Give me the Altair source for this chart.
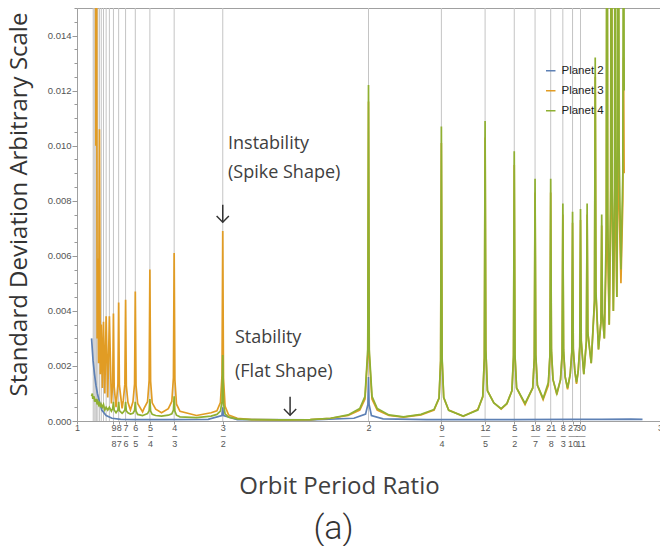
import altair as alt
import pandas as pd

# ---------------- data ----------------
series_names = ["Planet 2", "Planet 3", "Planet 4"]
series_colors = ["#5E81B5", "#E19C24", "#8FB032"]

# shared ratio grid for Planet 3 / Planet 4
ratio = [
    1.0500, 1.0526, 1.0541, 1.0556, 1.0572, 1.0588, 1.0606, 1.0625, 1.0645, 1.0667,
    1.0690, 1.0714, 1.0741, 1.0769, 1.0800, 1.0833, 1.0870, 1.0909, 1.0954, 1.1000,
    1.1055, 1.1111, 1.1180, 1.1225, 1.1250, 1.1275, 1.1339, 1.1404, 1.1429, 1.1454,
    1.1548, 1.1587, 1.1642, 1.1667, 1.1692, 1.1747, 1.1833, 1.1920, 1.1975, 1.2000,
    1.2025, 1.2080, 1.2250, 1.2300, 1.2420, 1.2475, 1.2500, 1.2525, 1.2580, 1.2700,
    1.2900, 1.3133, 1.3253, 1.3308, 1.3333, 1.3358, 1.3413, 1.3533, 1.4100, 1.4600,
    1.4800, 1.4920, 1.4975, 1.5000, 1.5025, 1.5080, 1.5200, 1.5500, 1.6000, 1.7000,
    1.8000, 1.8700, 1.9300, 1.9700, 1.9880, 1.9975, 2.0000, 2.0025, 2.0120, 2.0300,
    2.0700, 2.1200, 2.1800, 2.2250, 2.2420, 2.2475, 2.2500, 2.2525, 2.2580, 2.2750,
    2.3250, 2.3750, 2.3920, 2.3975, 2.4000, 2.4025, 2.4080, 2.4300, 2.4550, 2.4750,
    2.4920, 2.4975, 2.5000, 2.5025, 2.5080, 2.5370, 2.5634, 2.5689, 2.5714, 2.5739,
    2.5794, 2.5990, 2.6170, 2.6225, 2.6250, 2.6275, 2.6330, 2.6460, 2.6587, 2.6642,
    2.6667, 2.6692, 2.6747, 2.6830, 2.6920, 2.6975, 2.7000, 2.7025, 2.7080, 2.7136,
    2.7193, 2.7248, 2.7273, 2.7298, 2.7386, 2.7475, 2.7500, 2.7525, 2.7640, 2.7753,
    2.7778, 2.7803, 2.7890, 2.7975, 2.8000, 2.8025, 2.8090, 2.8157, 2.8182, 2.8207,
    2.8258, 2.8308, 2.8333, 2.8358, 2.8400, 2.8440, 2.8462, 2.8485, 2.8520, 2.8546,
    2.8571, 2.8596, 2.8660, 2.8725, 2.8750, 2.8770,
]
planet3 = [
    0.0300, 0.0400, 0.0190, 0.0350, 0.0175, 0.0320, 0.0165, 0.0300, 0.0100, 0.0260,
    0.0030, 0.0059, 0.0021, 0.0106, 0.0017, 0.0035, 0.0012, 0.0036, 0.0010, 0.0038,
    0.00085, 0.0038, 0.00064, 0.00136, 0.0039, 0.00125, 0.0005, 0.00134, 0.0043, 0.0013,
    0.00046, 0.00074, 0.00133, 0.0044, 0.00128, 0.00068, 0.0004, 0.0007, 0.00135, 0.0047,
    0.00129, 0.00064, 0.00033, 0.00046, 0.0007, 0.00147, 0.0055, 0.00144, 0.00066, 0.00043,
    0.0003, 0.00045, 0.00071, 0.00158, 0.0061, 0.0015, 0.00061, 0.00035, 0.0002, 0.0003,
    0.00037, 0.00067, 0.00167, 0.0069, 0.00156, 0.00053, 0.00022, 0.0001, 0.00005, 0.00004,
    0.00005, 0.0001, 0.0002, 0.0004, 0.0008, 0.0024, 0.0116, 0.0024, 0.0008, 0.0004,
    0.0002, 0.00014, 0.00022, 0.0004, 0.00082, 0.0022, 0.0101, 0.0022, 0.00084, 0.0004,
    0.00017, 0.00042, 0.00087, 0.0023, 0.0103, 0.0026, 0.0011, 0.00066, 0.00043, 0.00063,
    0.0011, 0.0023, 0.0093, 0.0024, 0.0012, 0.0006, 0.0012, 0.0023, 0.0083, 0.0024,
    0.0013, 0.00078, 0.0013, 0.0024, 0.0083, 0.0025, 0.0015, 0.00096, 0.0015, 0.0024,
    0.0075, 0.0025, 0.0016, 0.00115, 0.0017, 0.0025, 0.0072, 0.0026, 0.0018, 0.00135,
    0.0018, 0.0027, 0.0073, 0.0029, 0.0017, 0.0029, 0.0075, 0.0032, 0.0021, 0.0043,
    0.0125, 0.0046, 0.0026, 0.0036, 0.0071, 0.0039, 0.0030, 0.0060, 0.0200, 0.0062,
    0.0035, 0.0075, 0.0300, 0.0080, 0.0040, 0.0070, 0.0123, 0.0070, 0.0045, 0.0080,
    0.0160, 0.0080, 0.0050, 0.0080, 0.0132, 0.0090,
]
planet4 = [
    0.0009, 0.0010, 0.0008, 0.0009, 0.0008, 0.0009, 0.0007, 0.0008, 0.0007, 0.0008,
    0.0006, 0.0007, 0.0006, 0.0007, 0.0005, 0.0006, 0.0005, 0.0006, 0.0004, 0.0005,
    0.0004, 0.0005, 0.00036, 0.00045, 0.0007, 0.0004, 0.0003, 0.0004, 0.0007, 0.00038,
    0.00028, 0.00032, 0.0004, 0.0007, 0.00037, 0.0003, 0.00025, 0.00028, 0.00038, 0.0007,
    0.00036, 0.00024, 0.0002, 0.00022, 0.00027, 0.00038, 0.0008, 0.00036, 0.00024, 0.0002,
    0.00018, 0.00021, 0.00026, 0.0004, 0.0009, 0.00036, 0.00021, 0.00015, 0.00012, 0.00018,
    0.00024, 0.00036, 0.0007, 0.0024, 0.00065, 0.00026, 0.00014, 0.00008, 0.00005, 0.00004,
    0.00005, 0.0001, 0.00022, 0.00045, 0.0009, 0.0026, 0.0122, 0.0026, 0.0009, 0.00045,
    0.00022, 0.00015, 0.00024, 0.00042, 0.00083, 0.0022, 0.0107, 0.0023, 0.00086, 0.00039,
    0.00018, 0.0004, 0.0009, 0.0023, 0.0109, 0.0026, 0.0011, 0.00066, 0.00045, 0.00064,
    0.0011, 0.0024, 0.0098, 0.0024, 0.0012, 0.00064, 0.0012, 0.0023, 0.0088, 0.0024,
    0.0013, 0.00082, 0.0014, 0.0024, 0.0088, 0.0026, 0.0015, 0.0010, 0.0015, 0.0024,
    0.0079, 0.0026, 0.0016, 0.0012, 0.0017, 0.0025, 0.0076, 0.0026, 0.0018, 0.0014,
    0.0018, 0.0027, 0.0077, 0.0029, 0.0017, 0.0029, 0.0079, 0.0032, 0.0021, 0.0044,
    0.0132, 0.0047, 0.0026, 0.0036, 0.0075, 0.0039, 0.0030, 0.0070, 0.0300, 0.0075,
    0.0035, 0.0085, 0.0300, 0.0085, 0.0040, 0.0085, 0.0300, 0.0090, 0.0045, 0.0100,
    0.0300, 0.0100, 0.0055, 0.0090, 0.0250, 0.0120,
]

# Planet 2 has its own (coarser) grid
p2_ratio = [1.050, 1.055, 1.060, 1.065, 1.070, 1.077, 1.085, 1.100, 1.120, 1.150,
            1.200, 1.300, 1.450, 1.497, 1.500, 1.503, 1.550, 1.800, 1.950, 1.990,
            1.998, 2.000, 2.002, 2.010, 2.050, 2.200, 2.500, 2.700, 2.800, 2.900, 2.940]
planet2 = [0.0030, 0.0022, 0.0017, 0.0013, 0.0010, 0.0007, 0.0004, 0.0002, 0.0001, 0.00006,
           0.00005, 0.00005, 0.00006, 0.0002, 0.0005, 0.0002, 0.00005, 0.00004, 0.0001, 0.00025,
           0.0006, 0.0016, 0.0006, 0.0002, 0.00008, 0.00005, 0.00005, 0.00006, 0.00006, 0.00007, 0.00006]

# resonance grid lines
resonances = [19/18, 18/17, 17/16, 16/15, 15/14, 14/13, 13/12, 12/11, 11/10, 10/9,
              9/8, 8/7, 7/6, 6/5, 5/4, 4/3, 3/2, 2, 9/4, 12/5, 5/2, 18/7, 21/8,
              8/3, 27/10, 30/11]

# x tick labels (fractions)
tick_values = [1, 9/8, 8/7, 7/6, 6/5, 5/4, 4/3, 3/2, 2, 9/4, 12/5, 5/2, 18/7, 21/8,
               8/3, 27/10, 30/11, 3]
tick_num = ["1", "9", "8", "7", "6", "5", "4", "3", "2", "9", "12", "5", "18", "21",
            "8", "27", "30", "3"]
tick_den = ["", "8", "7", "6", "5", "4", "3", "2", "", "4", "5", "2", "7", "8",
            "3", "10", "11", ""]

y_ticks = [0.0, 0.0005, 0.001, 0.0015, 0.002, 0.0025, 0.003, 0.0035, 0.004, 0.0045,
           0.005, 0.0055, 0.006, 0.0065, 0.007, 0.0075, 0.008, 0.0085, 0.009, 0.0095,
           0.010, 0.0105, 0.011, 0.0115, 0.012, 0.0125, 0.013, 0.0135, 0.014, 0.0145, 0.015]

notes_text = ["Instability", "(Spike Shape)", "Stability", "(Flat Shape)"]
notes_x = [1.518, 1.518, 1.542, 1.542]
notes_y = [0.01007, 0.0090, 0.0030, 0.00177]

arrow_x = [1.5, 1.731]
arrow_tip = [0.00722, 0.00021]
arrow_top = [0.00785, 0.00088]

# ---------------- build tables ----------------
df3 = pd.DataFrame({"ratio": ratio, "sd": planet3, "series": "Planet 3"})
df4 = pd.DataFrame({"ratio": ratio, "sd": planet4, "series": "Planet 4"})
df2 = pd.DataFrame({"ratio": p2_ratio, "sd": planet2, "series": "Planet 2"})
df_res = pd.DataFrame({"ratio": resonances})
df_notes = pd.DataFrame({"ratio": notes_x, "sd": notes_y, "label": notes_text})
df_arrow = pd.DataFrame({"ratio": arrow_x, "sd": arrow_tip, "sd2": arrow_top})

parts = []
for v, n, d in zip(tick_values, tick_num, tick_den):
    if d:
        bar = "\u2013" if (len(n) == 1 and len(d) == 1) else "\u2014"
        lab = "['%s','%s','%s']" % (n, bar, d)
    else:
        lab = "'%s'" % n
    parts.append("abs(datum.value - %r) < 0.0001 ? %s : " % (v, lab))
x_label_expr = "".join(parts) + "''"

x_axis = alt.Axis(
    values=tick_values, labelExpr=x_label_expr, labelOverlap=False, labelFlush=False,
    labelBound=False, labelFont="Liberation Sans", labelFontSize=9, labelColor="#555555",
    labelLineHeight=8, labelPadding=-1, tickSize=3, tickColor="#999999", domain=False,
    grid=False, title="Orbit Period Ratio", titleFont="Open Sans", titleFontSize=24,
    titleFontWeight="normal", titleColor="#404040", titleX=262, titleY=72,
    titleBaseline="alphabetic", titleAlign="center",
)
y_axis = alt.Axis(
    values=y_ticks,
    labelExpr="round(datum.value*10000) % 20 == 0 ? format(datum.value, '.3f') : ''",
    tickSize={"condition": {"test": "round(datum.value*10000) % 20 == 0", "value": 5}, "value": 3},
    tickColor="#999999", labelFont="Liberation Sans", labelFontSize=9.5, labelColor="#555555",
    labelPadding=1, domain=False, grid=False,
    title="Standard Deviation Arbitrary Scale", titleFont="Open Sans", titleFontSize=24,
    titleFontWeight="normal", titleColor="#333333", titleX=-51, titleY=196,
    titleAngle=270, titleBaseline="alphabetic", titleAlign="center",
)

xs = alt.Scale(domain=[1, 3], nice=False, zero=False)
ys = alt.Scale(domain=[0, 0.015], nice=False, zero=False)
X = alt.X("ratio:Q", scale=xs, axis=x_axis)
Y = alt.Y("sd:Q", scale=ys, axis=y_axis)

color = alt.Color(
    "series:N",
    scale=alt.Scale(domain=series_names, range=series_colors),
    legend=alt.Legend(
        orient="none", legendX=468, legendY=57, title=None, symbolType="stroke",
        symbolSize=90, symbolStrokeWidth=1.5, labelFont="Liberation Sans",
        labelFontSize=11.5, labelColor="#222222", rowPadding=7, padding=0, labelOffset=5,
    ),
)

rules = alt.Chart(df_res).mark_rule(color="#c4c4c4", strokeWidth=1).encode(x=X)

def line(df):
    return alt.Chart(df).mark_line(strokeWidth=1.7, clip=True).encode(
        x=X, y=Y, color=color, order="ratio:Q"
    )

notes = alt.Chart(df_notes).mark_text(
    align="left", baseline="middle", font="Open Sans", fontSize=18, color="#404040"
).encode(x=X, y=Y, text="label:N")

stems = alt.Chart(df_arrow).mark_rule(color="#333333", strokeWidth=1.5).encode(
    x=X, y=Y, y2="sd2:Q"
)
heads = alt.Chart(df_arrow).mark_point(
    shape="M-1,-1L0,0L1,-1", size=150, filled=False, color="#333333",
    strokeWidth=1.5, opacity=1
).encode(x=X, y=Y)

chart = alt.layer(rules, line(df2), line(df3), line(df4), notes, stems, heads).properties(
    width=583, height=413,
    autosize=alt.AutoSizeParams(type="none"),
    padding={"left": 77, "top": 8, "right": 0, "bottom": 125},
    title=alt.TitleParams("(a)", orient="bottom", anchor="middle", offset=14, dx=-35,
                          font="Roboto", fontSize=34, fontWeight=300, color="#333333"),
).configure_view(stroke="#a0a0a0", strokeWidth=1)

chart.save("out.html", embed_options={"renderer": "svg", "actions": False})
